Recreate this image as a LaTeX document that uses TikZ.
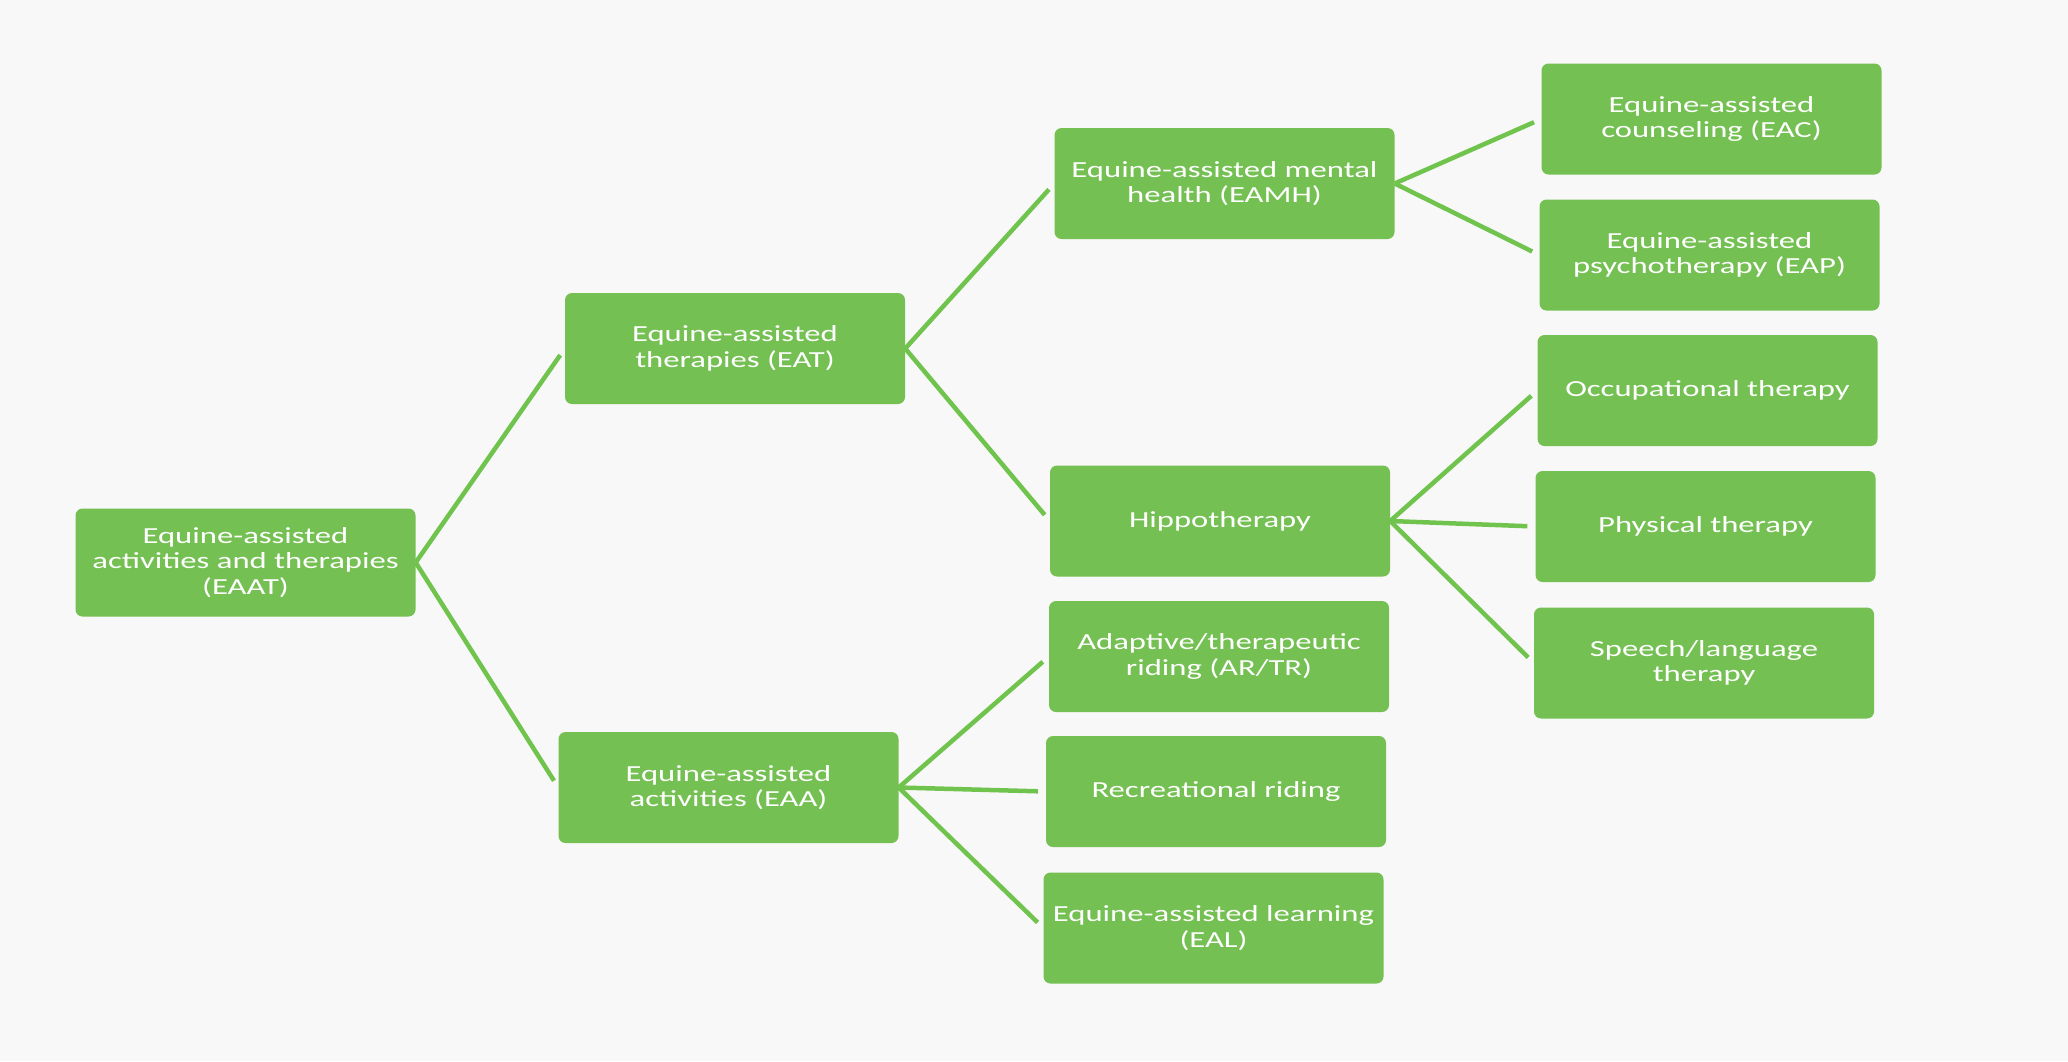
\documentclass[tikz,border=0pt]{standalone}
\usepackage{fontspec}
\setmainfont{Carlito}[FakeStretch=1.42]
\definecolor{boxgreen}{RGB}{116,192,82}
\definecolor{linegreen}{RGB}{112,196,78}
\definecolor{bgpaper}{RGB}{248,248,248}
\tikzset{
  box/.style={rectangle, rounded corners=7pt, fill=boxgreen, text=white,
    minimum width=340pt, minimum height=111pt, inner sep=4pt, align=center,
    font=\fontsize{23}{25.5}\selectfont},
  conn/.style={draw=linegreen, line width=4.5pt, shorten >=8pt}
}
\begin{document}
\begin{tikzpicture}[x=1pt,y=-1pt]
\fill[bgpaper] (0,0) rectangle (2068,1061);
\useasboundingbox (0,0) rectangle (2068,1061);

\node[box, minimum height=108pt] (eaat) at (245.5,562.5) {Equine-assisted\\activities and therapies\\(EAAT)};
\node[box] (eat) at (735,348.5) {Equine-assisted\\therapies (EAT)};
\node[box] (eaa) at (728.5,787.5) {Equine-assisted\\activities (EAA)};

\node[box] (eamh) at (1224.5,183.5) {Equine-assisted mental\\health (EAMH)};
\node[box] (hippo) at (1220,521) {Hippotherapy};
\node[box] (artr) at (1219,656.5) {Adaptive/therapeutic\\riding (AR/TR)};
\node[box] (rec) at (1216,791.5) {Recreational riding};
\node[box] (eal) at (1213.5,928) {Equine-assisted learning\\(EAL)};

\node[box] (eac) at (1711.5,119) {Equine-assisted\\counseling (EAC)};
\node[box] (eap) at (1709.5,255) {Equine-assisted\\psychotherapy (EAP)};
\node[box] (occ) at (1707.5,390.5) {Occupational therapy};
\node[box] (phys) at (1705.5,526.5) {Physical therapy};
\node[box] (speech) at (1704,663) {Speech/language\\therapy};

\draw[conn] (eaat.east) -- (eat.west);
\draw[conn] (eaat.east) -- (eaa.west);

\draw[conn] (eat.east) -- (eamh.west);
\draw[conn] (eat.east) -- (hippo.west);

\draw[conn] (eamh.east) -- (eac.west);
\draw[conn] (eamh.east) -- (eap.west);

\draw[conn] (hippo.east) -- (occ.west);
\draw[conn] (hippo.east) -- (phys.west);
\draw[conn] (hippo.east) -- (speech.west);

\draw[conn] (eaa.east) -- (artr.west);
\draw[conn] (eaa.east) -- (rec.west);
\draw[conn] (eaa.east) -- (eal.west);
\end{tikzpicture}
\end{document}
